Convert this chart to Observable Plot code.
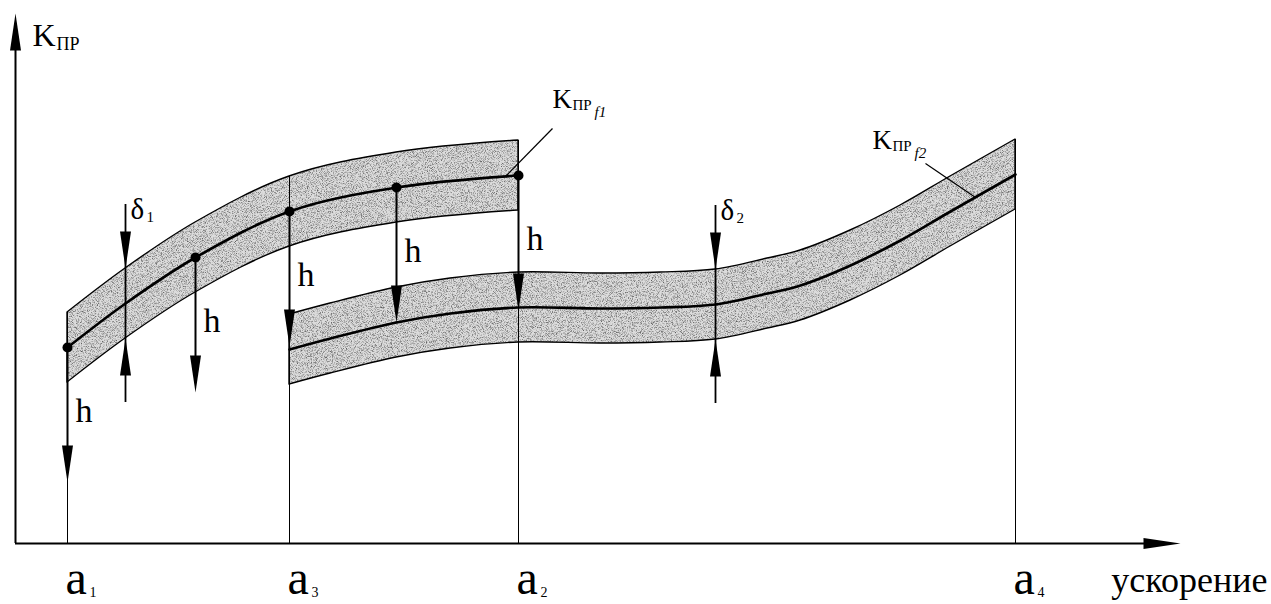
<!DOCTYPE html>
<html>
<head>
<meta charset="utf-8">
<script src="https://cdn.jsdelivr.net/npm/d3@7"></script>
<script src="https://cdn.jsdelivr.net/npm/@observablehq/plot@0.6"></script>
<style>
  html, body { margin: 0; padding: 0; background: #fff; }
</style>
</head>
<body>
<div id="chart"></div>
<script>
// ---------------- data ----------------
const xMax = 1165;            // end of the acceleration axis
const yMax = 530;             // end of the K axis
const delta = 35;             // half band width (δ/2)
const h = 135;                // vertical shift h

const aValues = [52, 274, 503, 1000];      // a1, a3, a2, a4
const aSubs = ["1", "3", "2", "4"];

const band1X = [52, 110, 180, 274, 381, 503];
const band1K = [196, 240, 286, 332, 356, 368];

const band2X = [274, 315, 381, 435, 503, 585, 645, 700, 752, 785, 835, 885, 935, 1000];
const band2K = [194, 205, 221, 230, 236, 235, 236, 239, 250, 258, 278, 303, 332, 369];

const dotX = [52, 180, 274, 381, 503];
const deltaX = [110, 700];
const deltaSubs = ["1", "2"];
const deltaExt = 64;

const curveSubs = ["f1", "f2"];
const curveLabelX = [537, 857];
const curveLabelY = [436, 395];
const leaderX1 = [537, 910];
const leaderY1 = [415, 380];
const leaderX2 = [490, 960];
const leaderY2 = [367, 346];

const axisXLabel = "ускорение";
const axisYMain = "K";
const axisYSub = "ПР";

// ---------------- derived tables ----------------
const band1 = band1X.map((x, i) => ({x, k: band1K[i]}));
const band2 = band2X.map((x, i) => ({x, k: band2K[i]}));
const kAt = (band, x) => band.find(d => d.x === x).k;
const dots = dotX.map(x => ({x, k: kAt(band1, x)}));
const deltas = deltaX.map((x, i) => ({x, k: kAt(i === 0 ? band1 : band2, x), sub: deltaSubs[i]}));
const verticals = aValues.map((x, i) => ({x, top: kAt(i === 3 ? band2 : band1, x) + delta}));
const aLabels = aValues.map((x, i) => ({x, sub: aSubs[i]}));
const curveLabels = curveSubs.map((s, i) => ({x: curveLabelX[i], y: curveLabelY[i], sub: s}));
const leaders = leaderX1.map((x, i) => ({x1: x, y1: leaderY1[i], x2: leaderX2[i], y2: leaderY2[i]}));

const downHeads = [
  ...dots.map(d => ({x: d.x, y: d.k - h})),
  ...deltas.map(d => ({x: d.x, y: d.k + delta}))
];
const upHeads = [
  ...deltas.map(d => ({x: d.x, y: d.k - delta})),
  {x: 0, y: yMax}
];
const rightHeads = [{x: xMax, y: 0}];

// long thin filled arrowhead symbols
function head(dir) {
  return {
    draw(ctx, size) {
      const s = Math.sqrt(size / Math.PI) / 10, L = 37 * s, w = 5.5 * s;
      if (dir === "down") { ctx.moveTo(0, 0); ctx.lineTo(-w, -L); ctx.lineTo(w, -L); }
      else if (dir === "up") { ctx.moveTo(0, 0); ctx.lineTo(-w, L); ctx.lineTo(w, L); }
      else { ctx.moveTo(0, 0); ctx.lineTo(-L, -w); ctx.lineTo(-L, w); }
      ctx.closePath();
    }
  };
}

const serif = "Liberation Serif, Times New Roman, serif";
const SENTINEL = "#bcbcbd";
const bandArea = (band, extra) => Plot.areaY(band, {
  x: "x", y1: d => d.k - delta, y2: d => d.k + delta, curve: "catmull-rom", ...extra
});
const txt = {textAnchor: "start", lineAnchor: "bottom", fontFamily: serif, fill: "black"};

const svg = Plot.plot({
  width: 1271,
  height: 604,
  marginLeft: 15,
  marginRight: 91,
  marginTop: 13,
  marginBottom: 61,
  x: {domain: [0, xMax], axis: null},
  y: {domain: [0, yMax], axis: null},
  style: {fontFamily: serif, background: "white", color: "black"},
  marks: [
    bandArea(band1, {fill: SENTINEL}),
    bandArea(band2, {fill: SENTINEL}),
    bandArea(band1, {fill: "none", stroke: "black", strokeWidth: 1.4}),
    bandArea(band2, {fill: "none", stroke: "black", strokeWidth: 1.4}),
    Plot.line(band1, {x: "x", y: "k", curve: "catmull-rom", stroke: "black", strokeWidth: 2.6}),
    Plot.line(band2, {x: "x", y: "k", curve: "catmull-rom", stroke: "black", strokeWidth: 2.6}),
    Plot.ruleX(verticals, {x: "x", y1: 0, y2: "top", stroke: "black", strokeWidth: 1}),
    // axes
    Plot.ruleX([0], {x: d => d, y1: 0, y2: yMax - 20, stroke: "black", strokeWidth: 2}),
    Plot.ruleY([0], {y: d => d, x1: 0, x2: xMax - 20, stroke: "black", strokeWidth: 2}),
    // h arrows and δ dimension lines
    Plot.ruleX(dots, {x: "x", y1: "k", y2: d => d.k - h + 12, stroke: "black", strokeWidth: 2}),
    Plot.ruleX(deltas, {x: "x", y1: d => d.k - delta - deltaExt, y2: d => d.k + delta + deltaExt, stroke: "black", strokeWidth: 1.8}),
    // leader lines
    Plot.link(leaders, {x1: "x1", y1: "y1", x2: "x2", y2: "y2", stroke: "black", strokeWidth: 1.2}),
    // points and arrowheads
    Plot.dot(dots, {x: "x", y: "k", r: 5, fill: "black"}),
    Plot.dot(downHeads, {x: "x", y: "y", r: 10, symbol: head("down"), fill: "black"}),
    Plot.dot(upHeads, {x: "x", y: "y", r: 10, symbol: head("up"), fill: "black"}),
    Plot.dot(rightHeads, {x: "x", y: "y", r: 10, symbol: head("right"), fill: "black"}),
    // texts
    Plot.text(dots, {x: "x", y: d => d.k - 74, text: () => "h", dx: 8, fontSize: 34, ...txt}),
    Plot.text(deltas, {x: "x", y: d => d.k + delta + deltaExt, text: () => "δ", dx: 5, dy: 14, fontSize: 29, ...txt}),
    Plot.text(deltas, {x: "x", y: d => d.k + delta + deltaExt, text: "sub", dx: 21, dy: 17, fontSize: 15, ...txt}),
    Plot.text(aLabels, {x: "x", y: () => 0, text: () => "a", dx: -2, dy: 50, fontSize: 48, ...txt}),
    Plot.text(aLabels, {x: "x", y: () => 0, text: "sub", dx: 22, dy: 53, fontSize: 14, ...txt}),
    Plot.text([axisXLabel], {x: () => xMax, y: () => 0, text: d => d, dx: 87, dy: 48, fontSize: 36, ...txt, textAnchor: "end"}),
    Plot.text([axisYMain], {x: () => 0, y: () => yMax, text: d => d, dx: 17, dy: 32, fontSize: 32, ...txt}),
    Plot.text([axisYSub], {x: () => 0, y: () => yMax, text: d => d, dx: 41, dy: 36, fontSize: 18, ...txt}),
    Plot.text(curveLabels, {x: "x", y: "y", text: () => axisYMain, fontSize: 27, ...txt}),
    Plot.text(curveLabels, {x: "x", y: "y", text: () => axisYSub, dx: 20, dy: 2, fontSize: 15, ...txt}),
    Plot.text(curveLabels, {x: "x", y: "y", text: "sub", dx: 42, dy: 9, fontSize: 15, fontStyle: "italic", ...txt})
  ]
});

// stippled grey texture for the bands
const defs = d3.select(svg).insert("defs", ":first-child");
const flt = defs.append("filter").attr("id", "grain").attr("x", 0).attr("y", 0).attr("width", 1).attr("height", 1);
flt.append("feTurbulence").attr("type", "fractalNoise").attr("baseFrequency", 1.2)
  .attr("numOctaves", 2).attr("seed", 5).attr("result", "n");
flt.append("feColorMatrix").attr("in", "n").attr("type", "matrix")
  .attr("values", "0 0 0 0 0  0 0 0 0 0  0 0 0 0 0  1.4 0 0 0 -0.62");
const pat = defs.append("pattern").attr("id", "stipple").attr("patternUnits", "userSpaceOnUse")
  .attr("width", 1271).attr("height", 604);
pat.append("rect").attr("width", 1271).attr("height", 604).attr("fill", "#dcdcdc");
pat.append("rect").attr("width", 1271).attr("height", 604).attr("fill", "#000").attr("filter", "url(#grain)");
d3.select(svg).selectAll(`[fill="${SENTINEL}"]`).attr("fill", "url(#stipple)");

document.getElementById("chart").appendChild(svg);
</script>
</body>
</html>
